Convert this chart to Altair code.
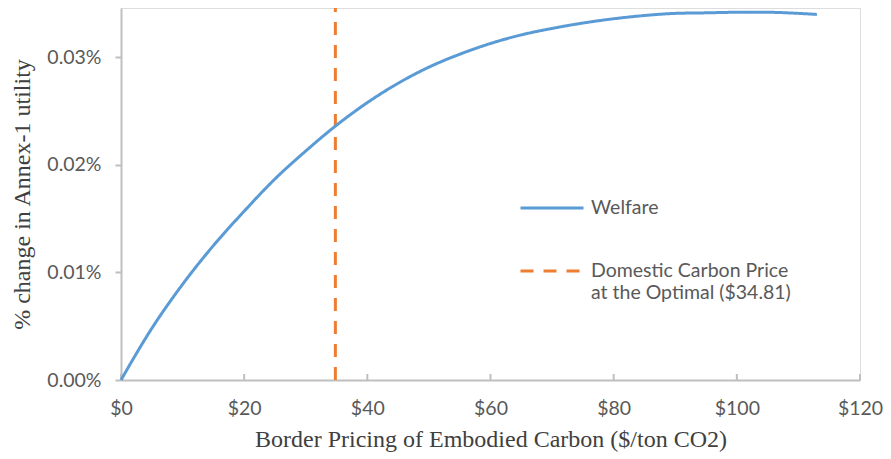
import altair as alt
import pandas as pd

# Data
price = [0, 5, 10, 15, 20, 25, 30, 35, 40, 45, 50, 55, 60, 65, 70, 75, 80, 85, 90, 95, 100, 105, 110, 113]
welfare_pct = [0.0, 0.0048, 0.0089, 0.0125, 0.0157, 0.0187, 0.0213, 0.0237, 0.0258, 0.0276, 0.0291,
               0.0303, 0.0313, 0.0321, 0.0327, 0.0332, 0.0336, 0.0339, 0.0341, 0.03415, 0.0342,
               0.0342, 0.0341, 0.0340]
opt_price = 34.81
y_top = 0.0346
x_ticks = [0, 20, 40, 60, 80, 100, 120]
y_ticks = [0.0, 0.01, 0.02, 0.03]
series = ["Welfare", "Domestic Carbon Price at the Optimal ($34.81)"]
colors = ["#5B9BD5", "#ED7D31"]
dashes = [[1, 0], [13, 10]]

line_df = pd.DataFrame({"price": price, "welfare": welfare_pct, "series": series[0]})
rule_df = pd.DataFrame({"price": [opt_price], "y0": [0.0], "y1": [y_top], "series": [series[1]]})
tick_df = pd.DataFrame({"price": x_ticks})

W, H = 739, 372
LABEL_FONT = "Lato"
LABEL_SIZE = 19.5
TITLE_FONT = "Liberation Serif"
TITLE_SIZE = 24

legend = alt.Legend(
    title=None, orient="none", legendX=398, legendY=167,
    symbolType="stroke", symbolSize=3969, symbolStrokeWidth=3,
    labelFont=LABEL_FONT, labelFontSize=LABEL_SIZE, labelColor="#595959",
    labelLimit=400, labelOffset=6, rowPadding=20,
    labelExpr="datum.label == 'Welfare' ? 'Welfare' : ['Domestic Carbon Price', 'at the Optimal ($34.81)']",
)
color = alt.Color("series:N", scale=alt.Scale(domain=series, range=colors), legend=legend)
dash = alt.StrokeDash("series:N", scale=alt.Scale(domain=series, range=dashes), legend=legend)

x_axis = alt.Axis(values=x_ticks, labelExpr="'$' + datum.value", ticks=False, grid=False, labelFlush=False,
                  domainColor="#BFBFBF", domainWidth=2, labelFont=LABEL_FONT, labelFontSize=LABEL_SIZE,
                  labelColor="#595959", labelPadding=19,
                  title="Border Pricing of Embodied Carbon ($/ton CO2)", titleFont=TITLE_FONT,
                  titleFontSize=TITLE_SIZE, titleFontWeight="normal", titleColor="#404040", titlePadding=10)
y_axis = alt.Axis(values=y_ticks, labelExpr="format(datum.value, '.2f') + '%'", grid=False, labelFlush=False,
                  domainColor="#BFBFBF", domainWidth=2, tickColor="#BFBFBF", tickWidth=2, tickSize=6,
                  labelFont=LABEL_FONT, labelFontSize=LABEL_SIZE, labelColor="#595959", labelPadding=14,
                  title="% change in Annex-1 utility", titleFont=TITLE_FONT, titleFontSize=TITLE_SIZE,
                  titleFontWeight="normal", titleColor="#404040", titlePadding=12)

xs = alt.Scale(domain=[0, 120], nice=False)
ys = alt.Scale(domain=[0, y_top], nice=False)

line = alt.Chart(line_df).mark_line(strokeWidth=3, interpolate="monotone").encode(
    x=alt.X("price:Q", scale=xs, axis=x_axis),
    y=alt.Y("welfare:Q", scale=ys, axis=y_axis),
    color=color, strokeDash=dash,
)
rule = alt.Chart(rule_df).mark_rule(strokeWidth=3).encode(
    x="price:Q", y="y0:Q", y2="y1:Q", color=color, strokeDash=dash,
)
ticks = alt.Chart(tick_df).mark_rule(color="#BFBFBF", strokeWidth=2).encode(
    x="price:Q", y=alt.value(H - 6), y2=alt.value(H),
)

chart = alt.layer(ticks, rule, line).properties(
    width=W, height=H,
    autosize=alt.AutoSizeParams(type="none"),
    padding={"left": 113, "top": 0, "right": 23, "bottom": 79},
).configure_view(stroke=None).configure(background="white")

chart.save("out.html", embed_options={"renderer": "svg", "actions": False})
